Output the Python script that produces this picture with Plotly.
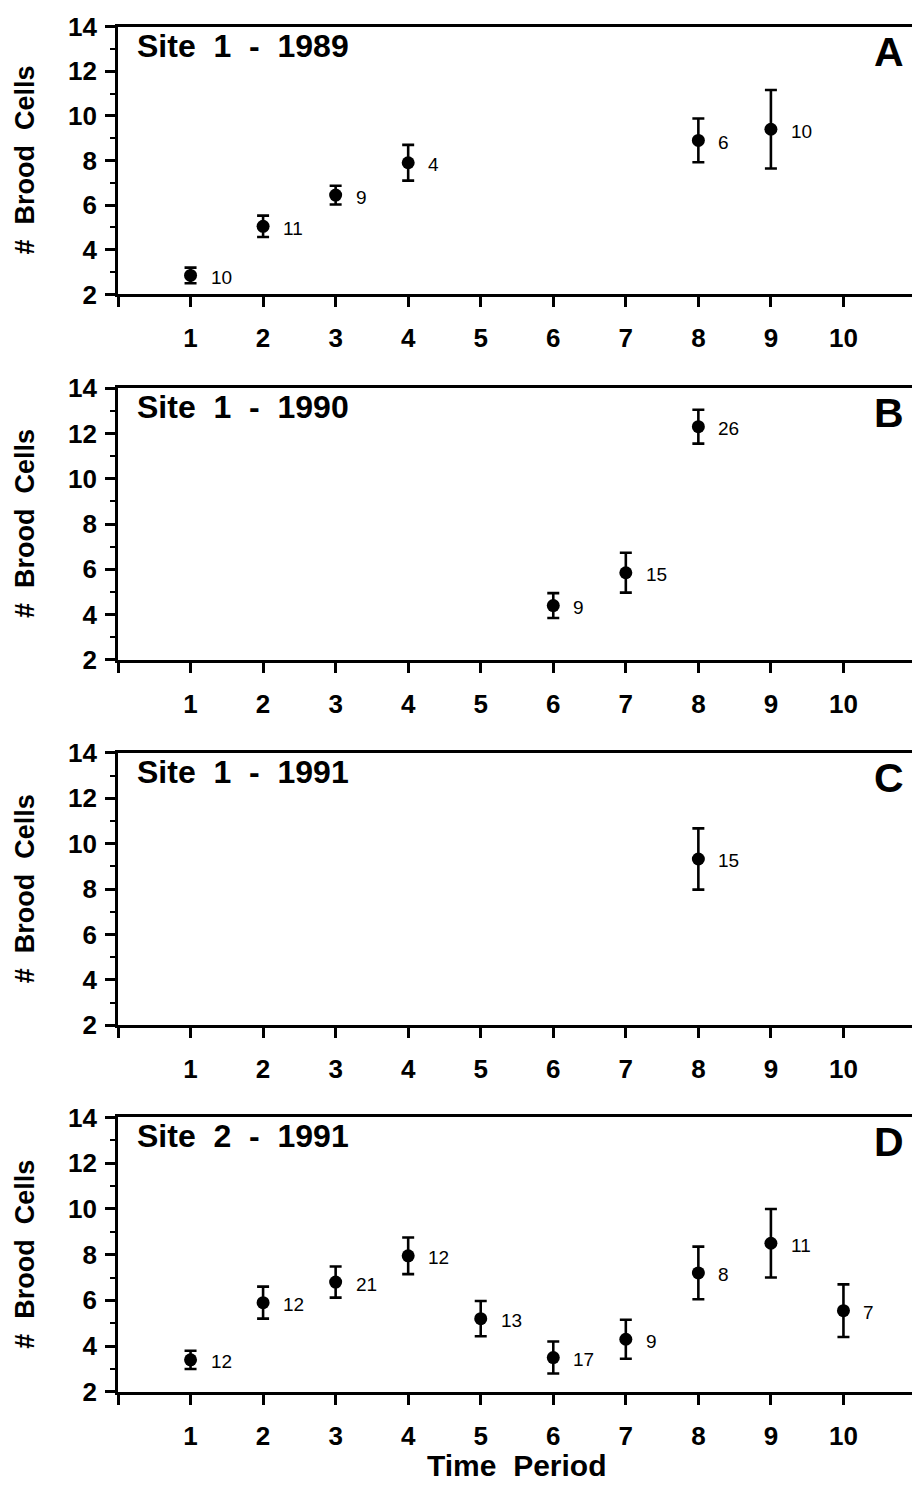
import plotly.graph_objects as go
from plotly.subplots import make_subplots

# ---- data ----
panel_titles = ["Site 1 - 1989", "Site 1 - 1990", "Site 1 - 1991", "Site 2 - 1991"]
panel_letters = ["A", "B", "C", "D"]

periods_A = [1, 2, 3, 4, 8, 9]
means_A = [2.85, 5.05, 6.45, 7.9, 8.9, 9.4]
err_A = [0.35, 0.48, 0.42, 0.8, 0.98, 1.76]
n_A = [10, 11, 9, 4, 6, 10]

periods_B = [6, 7, 8]
means_B = [4.4, 5.85, 12.3]
err_B = [0.55, 0.88, 0.75]
n_B = [9, 15, 26]

periods_C = [8]
means_C = [9.33]
err_C = [1.35]
n_C = [15]

periods_D = [1, 2, 3, 4, 5, 6, 7, 8, 9, 10]
means_D = [3.4, 5.9, 6.8, 7.95, 5.2, 3.5, 4.3, 7.2, 8.5, 5.55]
err_D = [0.4, 0.7, 0.68, 0.8, 0.77, 0.7, 0.85, 1.15, 1.5, 1.15]
n_D = [12, 12, 21, 12, 13, 17, 9, 8, 11, 7]

x_tickvals = list(range(0, 12))
x_ticktext = [""] + [str(i) for i in range(1, 11)] + [""]

panels = [
    (periods_A, means_A, err_A, n_A),
    (periods_B, means_B, err_B, n_B),
    (periods_C, means_C, err_C, n_C),
    (periods_D, means_D, err_D, n_D),
]

# page offset: browser body margin of 8px
OFF = 8
W, H = 920 - OFF, 1496 - OFF
# page-pixel positions of plot areas (top, bottom)
px_rows = [(11.7, 285), (380.7, 658), (753, 1031), (1125, 1405)]
x_left, x_right = 118 - OFF, 916 - OFF

FONT = "Liberation Sans, Arial, Helvetica, sans-serif"
NB = "\u00a0"

fig = make_subplots(rows=4, cols=1)

annotations = []
for i, (px, mu, er, nn) in enumerate(panels):
    r = i + 1
    fig.add_trace(
        go.Scatter(
            x=px, y=mu, mode="markers",
            marker=dict(color="black", size=13, symbol="circle"),
            error_y=dict(type="data", array=er, visible=True, color="black",
                         thickness=2.6, width=6),
            showlegend=False, cliponaxis=False,
        ),
        row=r, col=1,
    )
    xa = "x" if r == 1 else f"x{r}"
    ya = "y" if r == 1 else f"y{r}"
    for xv, yv, nv in zip(px, mu, nn):
        annotations.append(dict(
            x=xv, y=yv, xref=xa, yref=ya, text=str(nv), showarrow=False,
            xanchor="left", yanchor="middle", xshift=18, yshift=-2,
            font=dict(family=FONT, size=19, color="black"),
        ))
    title = panel_titles[i].replace(" ", NB + NB)
    annotations.append(dict(
        x=0.021, y=1.0, xref=f"{xa} domain", yref=f"{ya} domain",
        text=title, showarrow=False, xanchor="left", yanchor="top", yshift=1,
        font=dict(family=FONT, size=32, color="black", weight="bold"),
    ))
    annotations.append(dict(
        x=0.987, y=1.0, xref=f"{xa} domain", yref=f"{ya} domain",
        text=panel_letters[i], showarrow=False, xanchor="right", yanchor="top", yshift=0,
        font=dict(family=FONT, size=41, color="black", weight="bold"),
    ))
    top, bot = px_rows[i]
    top -= OFF
    bot -= OFF
    annotations.append(dict(
        x=17 / W, y=1 - (top + bot) / 2 / H, xref="paper", yref="paper",
        text="#" + NB + NB + "Brood" + NB + NB + "Cells", textangle=-90, showarrow=False,
        xanchor="center", yanchor="middle",
        font=dict(family=FONT, size=27, color="black", weight="bold"),
    ))
    fig.update_xaxes(
        row=r, col=1, range=[0, 11], domain=[x_left / W, x_right / W],
        tickmode="array", tickvals=x_tickvals, ticktext=x_ticktext,
        ticks="outside", ticklen=10, tickwidth=2.6, tickcolor="black",
        showline=True, linewidth=2.6, linecolor="black", mirror=True,
        showgrid=False, zeroline=False,
        tickfont=dict(family=FONT, size=26, color="black", weight="bold"),
        ticklabelstandoff=9,
    )
    fig.update_yaxes(
        row=r, col=1, range=[2, 14], domain=[1 - bot / H, 1 - top / H],
        tickmode="linear", tick0=2, dtick=2,
        ticks="outside", ticklen=10, tickwidth=2.6, tickcolor="black",
        minor=dict(dtick=1, tick0=2, ticks="outside", ticklen=5, tickwidth=2.2, tickcolor="black"),
        showline=True, linewidth=2.6, linecolor="black", mirror=True,
        showgrid=False, zeroline=False,
        tickfont=dict(family=FONT, size=26, color="black", weight="bold"),
        ticklabelstandoff=3,
    )

annotations.append(dict(
    x=(x_left + x_right) / 2 / W, y=1 - (1480 - OFF) / H, xref="paper", yref="paper",
    text="Time" + NB + NB + "Period", showarrow=False, xanchor="center", yanchor="middle",
    font=dict(family=FONT, size=30, color="black", weight="bold"),
))

fig.update_layout(
    width=W, height=H, margin=dict(l=0, r=0, t=0, b=0),
    paper_bgcolor="white", plot_bgcolor="white",
    annotations=annotations, showlegend=False,
)

fig.write_html("out.html")
